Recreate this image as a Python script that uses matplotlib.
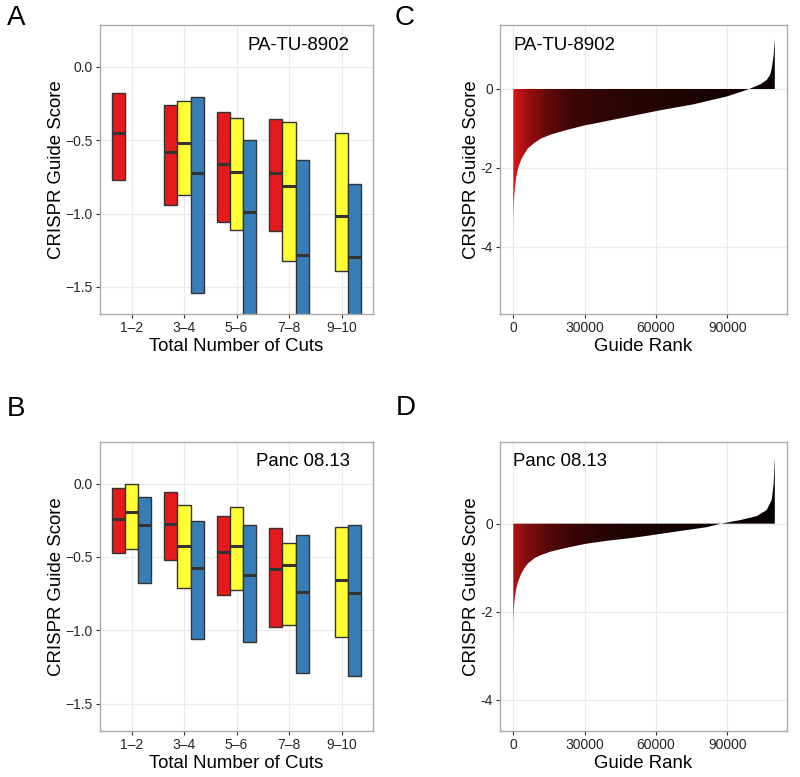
import numpy as np
import matplotlib
matplotlib.use("Agg")
import matplotlib.pyplot as plt
from matplotlib.patches import Polygon
from matplotlib.colors import LinearSegmentedColormap

plt.rcParams['font.family'] = ['Liberation Sans', 'DejaVu Sans']

# ---------------- data ----------------
categories = ["1\u20132", "3\u20134", "5\u20136", "7\u20138", "9\u201310"]
nan = np.nan

# Panel A (PA-TU-8902): box tops (Q3), medians, bottoms (Q1)
A_red_q3 = [-0.177, -0.263, -0.308, -0.358, nan]
A_red_med = [-0.454, -0.580, -0.662, -0.723, nan]
A_red_q1 = [-0.773, -0.943, -1.061, -1.120, nan]
A_yel_q3 = [nan, -0.236, -0.347, -0.374, -0.451]
A_yel_med = [nan, -0.517, -0.717, -0.812, -1.016]
A_yel_q1 = [nan, -0.873, -1.111, -1.322, -1.395]
A_blu_q3 = [nan, -0.204, -0.501, -0.637, -0.798]
A_blu_med = [nan, -0.721, -0.989, -1.286, -1.295]
A_blu_q1 = [nan, -1.540, -2.000, -2.300, -2.200]

# Panel B (Panc 08.13)
B_red_q3 = [-0.034, -0.061, -0.223, -0.302, nan]
B_red_med = [-0.241, -0.277, -0.464, -0.580, nan]
B_red_q1 = [-0.477, -0.523, -0.759, -0.975, nan]
B_yel_q3 = [0.000, -0.145, -0.161, -0.407, -0.295]
B_yel_med = [-0.191, -0.423, -0.425, -0.557, -0.657]
B_yel_q1 = [-0.445, -0.714, -0.723, -0.966, -1.043]
B_blu_q3 = [-0.093, -0.257, -0.286, -0.348, -0.286]
B_blu_med = [-0.286, -0.577, -0.623, -0.741, -0.743]
B_blu_q1 = [-0.675, -1.061, -1.082, -1.291, -1.311]

box_yticks = [0.0, -0.5, -1.0, -1.5]
box_yticklabels = ["0.0", "\u22120.5", "\u22121.0", "\u22121.5"]

# Panel C: sorted guide scores (PA-TU-8902)
C_rank = [0, 30, 200, 570, 1260, 1980, 3370, 4800, 6190, 9000, 11800, 16000,
          22300, 30200, 33700, 47700, 61700, 75700, 82000, 89800, 95400, 99200,
          104000, 106600, 108000, 108700, 109500, 110000]
C_score = [-5.26, -3.32, -2.90, -2.56, -2.22, -2.01, -1.78, -1.63, -1.50, -1.36,
           -1.25, -1.15, -1.04, -0.92, -0.88, -0.71, -0.54, -0.39, -0.30, -0.19,
           -0.08, 0.00, 0.12, 0.23, 0.35, 0.52, 0.85, 1.27]
# Panel D: sorted guide scores (Panc 08.13)
D_rank = [0, 30, 200, 570, 1260, 1980, 3370, 4800, 6190, 9000, 11800, 16000,
          22300, 30200, 39300, 49100, 53300, 67300, 81400, 87300, 95400,
          102400, 106600, 108700, 109500, 110000]
D_score = [-4.34, -2.22, -1.95, -1.70, -1.47, -1.32, -1.13, -1.00, -0.90, -0.78,
           -0.71, -0.63, -0.55, -0.46, -0.39, -0.33, -0.30, -0.19, -0.08, 0.00,
           0.08, 0.17, 0.31, 0.54, 0.90, 1.52]

# fill colour along rank
C_col_rank = [0, 5000, 15000, 25000, 45000, 80000, 110000]
C_col = ['#d81818', '#a31010', '#600a0a', '#3d0606', '#2a0505', '#1a0303', '#080000']
D_col_rank = [0, 5000, 15000, 25000, 45000, 80000, 110000]
D_col = ['#b01212', '#851010', '#550808', '#3a0505', '#200303', '#100202', '#050000']

rank_ticks = [0, 30000, 60000, 90000]
rank_ticklabels = ["0", "30000", "60000", "90000"]
score_ticks = [0, -2, -4]
score_ticklabels = ["0", "-2", "-4"]

# ---------------- style ----------------
RED, YEL, BLU = '#E41A1C', '#FFFF33', '#377EB8'
EDGE = '#333333'
GRID = '#EBEBEB'
BORDER = '#AAAAAA'
TXT = '#262626'
TICK_FS = 10
LAB_FS = 13.4

W, H = 800, 777
fig = plt.figure(figsize=(W / 100, H / 100), dpi=100)

def px_axes(x0, y0, x1, y1):
    return fig.add_axes([x0 / W, 1 - y1 / H, (x1 - x0) / W, (y1 - y0) / H])

axA = px_axes(100, 25, 373, 314)
axB = px_axes(100, 441.7, 373, 730.7)
axC = px_axes(500, 25, 786.7, 313.7)
axD = px_axes(500, 441.7, 786.7, 730.7)

def style(ax):
    ax.set_facecolor('white')
    ax.grid(True, color=GRID, lw=0.9)
    ax.set_axisbelow(True)
    for s in ax.spines.values():
        s.set_color(BORDER)
        s.set_linewidth(1.0)
    ax.tick_params(length=3, width=0.8, color=EDGE, labelsize=TICK_FS,
                   labelcolor=TXT, pad=2)

def box_panel(ax, series, label):
    style(ax)
    x = np.arange(1, len(categories) + 1)
    w = 0.25
    for k, (q3, med, q1, col) in enumerate(series):
        q3 = np.array(q3); med = np.array(med); q1 = np.array(q1)
        xs = x + (k - 1) * w
        ok = ~np.isnan(q3)
        ax.bar(xs[ok], q3[ok] - q1[ok], bottom=q1[ok], width=w, color=col,
               edgecolor=EDGE, linewidth=1.0, zorder=2)
        ax.hlines(med[ok], xs[ok] - w / 2, xs[ok] + w / 2, color=EDGE, lw=2.2,
                  zorder=3)
    ax.set_xlim(0.4, 5.6)
    ax.set_ylim(-1.685, 0.285)
    ax.set_xticks(x)
    ax.set_xticklabels(categories)
    ax.set_yticks(box_yticks)
    ax.set_yticklabels(box_yticklabels)
    ax.set_xlabel("Total Number of Cuts", fontsize=LAB_FS, labelpad=2.5, color='black')
    ax.set_ylabel("CRISPR Guide Score", fontsize=LAB_FS, labelpad=0.5, color='black')
    ax.text(0.915, 0.93, label, transform=ax.transAxes, ha='right', va='center',
            fontsize=LAB_FS, color='black')

box_panel(axA, [(A_red_q3, A_red_med, A_red_q1, RED),
                (A_yel_q3, A_yel_med, A_yel_q1, YEL),
                (A_blu_q3, A_blu_med, A_blu_q1, BLU)], "PA-TU-8902")
box_panel(axB, [(B_red_q3, B_red_med, B_red_q1, RED),
                (B_yel_q3, B_yel_med, B_yel_q1, YEL),
                (B_blu_q3, B_blu_med, B_blu_q1, BLU)], "Panc 08.13")

def rank_panel(ax, rank, score, col_rank, cols, ylim, label):
    style(ax)
    verts = list(zip(rank, score)) + [(rank[-1], 0), (rank[0], 0)]
    poly = Polygon(verts, closed=True, facecolor='none', edgecolor='none')
    ax.add_patch(poly)
    span = col_rank[-1] - col_rank[0]
    cmap = LinearSegmentedColormap.from_list(
        'g', [((r - col_rank[0]) / span, c) for r, c in zip(col_rank, cols)])
    grad = np.linspace(0, 1, 1200)[None, :]
    im = ax.imshow(grad, extent=[col_rank[0], col_rank[-1], ylim[0], ylim[1]],
                   aspect='auto', cmap=cmap, origin='lower', zorder=1,
                   interpolation='bilinear')
    im.set_clip_path(poly)
    ax.set_xlim(-5600, 115000)
    ax.set_ylim(*ylim)
    ax.set_xticks(rank_ticks)
    ax.set_xticklabels(rank_ticklabels)
    ax.set_yticks(score_ticks)
    ax.set_yticklabels(score_ticklabels)
    ax.set_xlabel("Guide Rank", fontsize=LAB_FS, labelpad=2.5, color='black')
    ax.set_ylabel("CRISPR Guide Score", fontsize=LAB_FS, labelpad=0.5, color='black')
    ax.text(0.046, 0.93, label, transform=ax.transAxes, ha='left', va='center',
            fontsize=LAB_FS, color='black')

rank_panel(axC, C_rank, C_score, C_col_rank, C_col, (-5.69, 1.62), "PA-TU-8902")
rank_panel(axD, D_rank, D_score, D_col_rank, D_col, (-4.70, 1.86), "Panc 08.13")

for lab, (px, py) in zip("ABCD", [(16, 18), (16, 409), (405, 18), (406, 408)]):
    fig.text(px / W, 1 - py / H, lab, ha='center', va='center', fontsize=20,
             color='black')

fig.savefig("out.png", dpi=100)
